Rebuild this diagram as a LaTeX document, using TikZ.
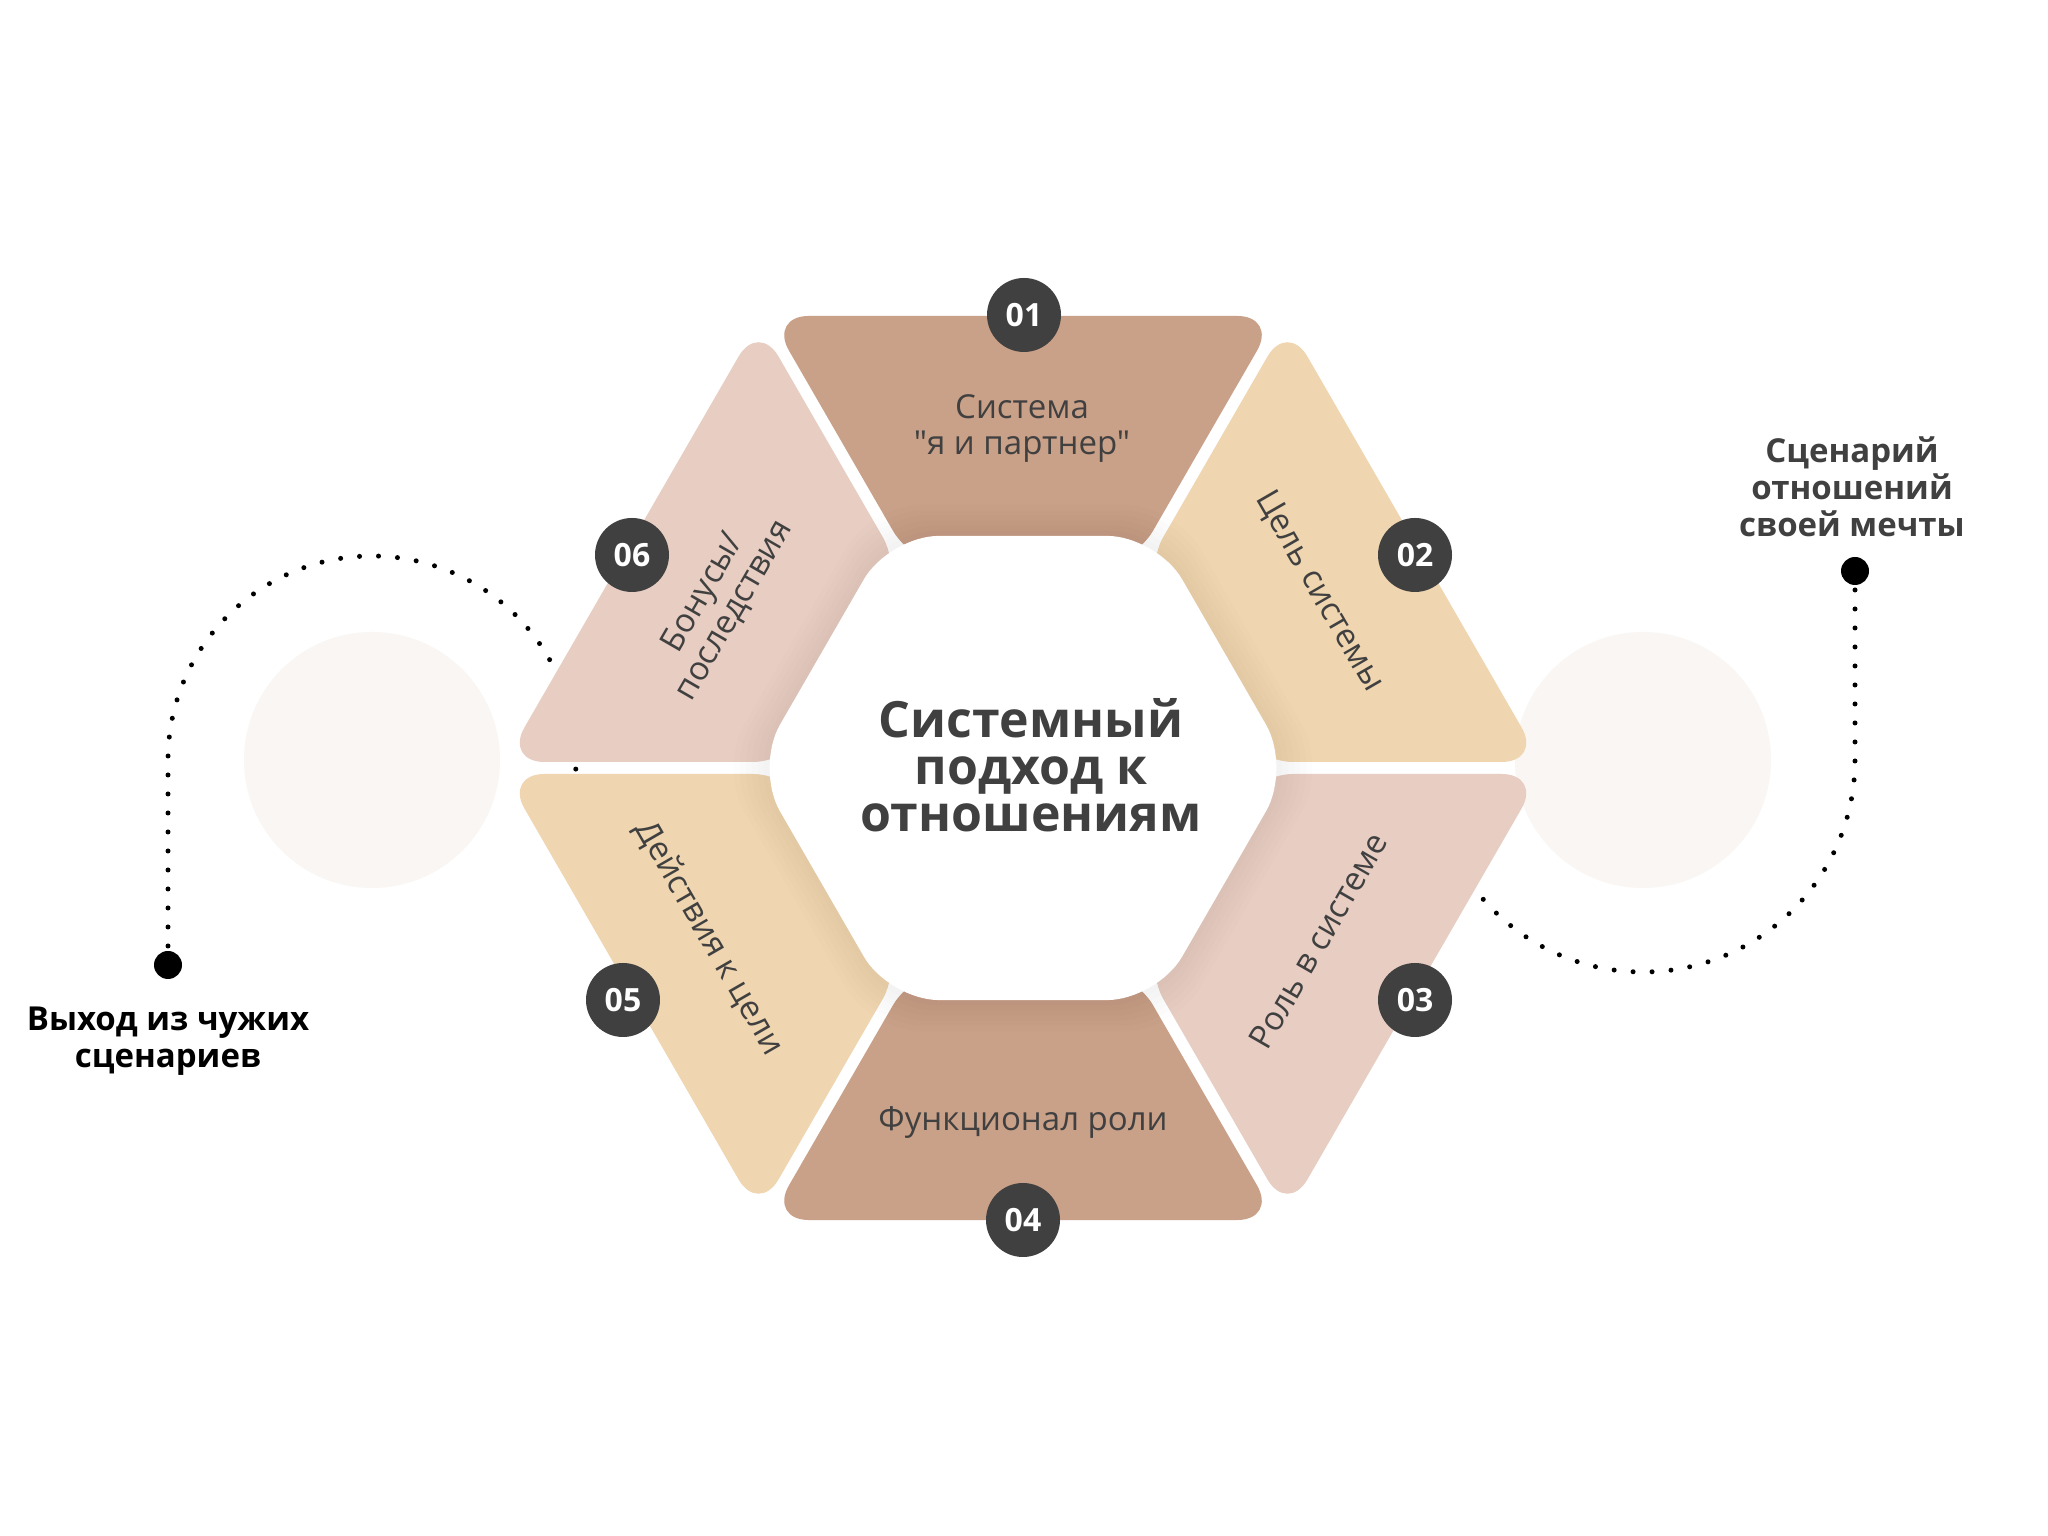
\documentclass[tikz,border=0pt]{standalone}
\usepackage{fontspec}
\setmainfont{Open Sans}[Ligatures=TeXOff]
\usetikzlibrary{calc}
\definecolor{cBrown}{HTML}{C9A088}
\definecolor{cBeige}{HTML}{EFD5B0}
\definecolor{cPink}{HTML}{E7CDC2}
\definecolor{cDark}{HTML}{404040}
\definecolor{cCirc}{HTML}{FAF6F3}
% piece between radial angles #1 and #1+60
\newcommand\hexpiece[2]{%
  \fill[#2, rounded corners=40pt]
    ($(C)+(#1:518.5)+(#1+90:6)$) -- ($(C)+(#1+60:518.5)+(#1-30:6)$) --
    ($(C)+(#1+60:230)+(#1-30:6)$) -- ($(C)+(#1:230)+(#1+90:6)$) -- cycle;}
\newcommand\rhex[2]{%
  ($(C)+(0:#1)$) -- ($(C)+(60:#1)$) -- ($(C)+(120:#1)$) -- ($(C)+(180:#1)$) --
  ($(C)+(240:#1)$) -- ($(C)+(300:#1)$) -- cycle}
\tikzset{
  dotline/.style={line width=5pt, line cap=round, dash pattern=on 0pt off 19pt, black},
  enddot/.style={circle, fill=black, minimum size=28pt, inner sep=0pt},
  lbl/.style={text=cDark, font=\fontsize{33}{36}\selectfont, align=center, inner sep=0pt},
  badge/.style={circle, fill=cDark, minimum size=74pt, inner sep=0pt, text=white,
    font=\bfseries\fontsize{32}{32}\selectfont},
  ttl/.style={text=cDark, font=\bfseries\fontsize{50}{47}\selectfont, align=center},
  side/.style={font=\bfseries\fontsize{33}{37}\selectfont, align=center}
}
\begin{document}
\begin{tikzpicture}[x=1pt,y=1pt]
\useasboundingbox (0,0) rectangle (2048,1536);
\fill[white] (0,0) rectangle (2048,1536);
\coordinate (C) at (1023,768);
\coordinate (cL) at (372,776);
\coordinate (cR) at (1643,776);
% background circles
\fill[cCirc] (cL) circle[radius=128];
\fill[cCirc] (cR) circle[radius=128];
% end dots and dotted connectors
\node[enddot] (dotL) at (168,571) {};
\node[enddot] (dotR) at (1855,965) {};
\draw[dotline] (dotL.center) -- (dotL.center |- cL) arc[start angle=180, end angle=-4, radius=204];
\draw[dotline] (dotR.center) -- (dotR.center |- cR) arc[start angle=0, end angle=-178, radius=212];
% pieces
\hexpiece{60}{cBrown}
\hexpiece{0}{cBeige}
\hexpiece{-60}{cPink}
\hexpiece{-120}{cBrown}
\hexpiece{180}{cBeige}
\hexpiece{120}{cPink}
% soft shadow around the centre
\foreach \k in {1,...,6}{
  \fill[black, opacity=0.009, rounded corners=50pt] \rhex{268+6*\k}{};
}
% centre
\fill[white, rounded corners=50pt] \rhex{268}{};
\node[ttl] (title) at (1031,771) {Системный\\подход к\\отношениям};
% piece labels
\node[lbl] (t1) at (1022,1107) {Система\\"я и партнер"};
\node[lbl, rotate=-60] (t2) at (1319,944) {Цель системы};
\node[lbl, rotate=60] (t3) at (1318,595) {Роль в системе};
\node[lbl] (t4) at (1023,413) {Функционал роли};
\node[lbl, rotate=-60] (t5) at (709,598) {Действия к цели};
\node[lbl, rotate=60] (t6) at (719,934) {Бонусы/\\последствия};
% badges
\node[badge] (b1) at (1024,1221) {01};
\node[badge] (b2) at (1415,981) {02};
\node[badge] (b3) at (1415,536) {03};
\node[badge] (b4) at (1023,316) {04};
\node[badge] (b5) at (623,536) {05};
\node[badge] (b6) at (632,981) {06};
% side labels
\node[side, text=black, anchor=north] (sL) at (168,533) {Выход из чужих\\сценариев};
\node[side, text=cDark, anchor=south] (sR) at (1852,996) {Сценарий\\отношений\\своей мечты};
\end{tikzpicture}
\end{document}
